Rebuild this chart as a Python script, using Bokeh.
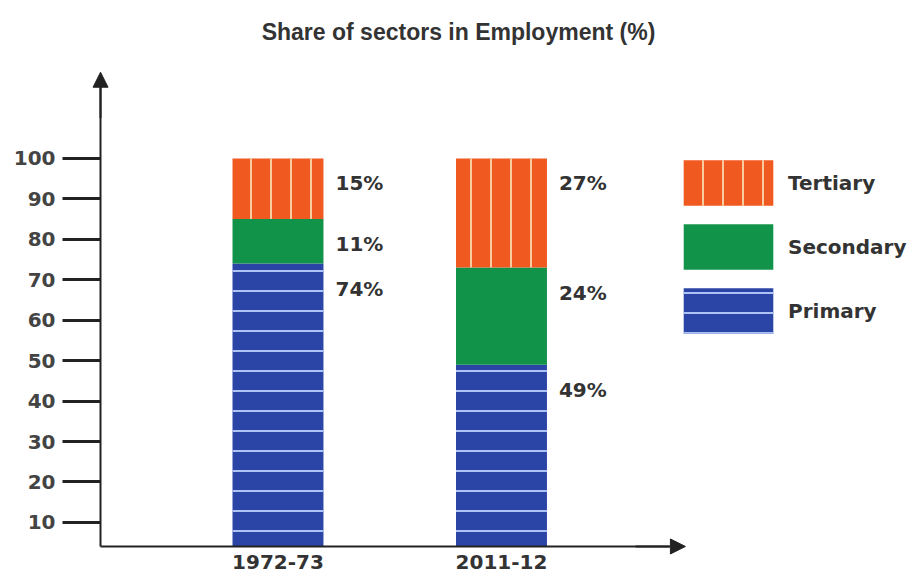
from bokeh.plotting import figure
from bokeh.models import (ColumnDataSource, Range1d, FixedTicker, Legend, LegendItem,
                          Arrow, NormalHead)
from bokeh.core.properties import value
from bokeh.embed import file_html
from bokeh.resources import INLINE

# ---- data ----
categories = ["1972-73", "2011-12"]
primary = [74, 49]
secondary = [11, 24]
tertiary = [15, 27]
y_ticks = [10, 20, 30, 40, 50, 60, 70, 80, 90, 100]
title_text = "Share of sectors in Employment (%)"

# ---- layout constants ----
BAR_W = 0.407
X0, X1 = -0.2416, 3.857        # frame x range (frame spans the full width)
Y0, Y1 = -3.12, 124.2          # frame y range
AX_X = 0.206                   # where the y axis sits
AX_Y = 4.06                    # where the x axis sits (bars start here)
TEXT = "#333333"
AXC = "#222222"
FONT = "DejaVu Sans"

# ---- derived ----
n = len(categories)
xs = [i + 1 for i in range(n)]
p_top = list(primary)
s_top = [a + b for a, b in zip(primary, secondary)]
t_top = [a + b + c for a, b, c in zip(primary, secondary, tertiary)]
src = ColumnDataSource(dict(x=xs, base=[AX_Y] * n, p_top=p_top, s_top=s_top, t_top=t_top))

p = figure(width=916, height=575, x_range=Range1d(X0, X1), y_range=Range1d(Y0, Y1),
           output_backend="svg", toolbar_location=None,
           min_border_left=0, min_border_right=0, min_border_top=60, min_border_bottom=0)
p.grid.visible = False
p.outline_line_color = None
p.background_fill_color = "white"

# title
p.title.text = title_text
p.title.align = "center"
p.title.offset = -6
p.title.text_font = "Liberation Sans"
p.title.text_font_size = "23px"
p.title.text_font_style = "bold"
p.title.text_color = TEXT
p.title.standoff = 32

# bars
r_p = p.vbar(x="x", bottom="base", top="p_top", width=BAR_W, source=src,
             fill_color="#2b45a6", line_color=None,
             hatch_pattern="horizontal_line", hatch_color="#aec3f5",
             hatch_weight=2, hatch_scale=20)
r_s = p.vbar(x="x", bottom="p_top", top="s_top", width=BAR_W, source=src,
             fill_color="#12934a", line_color=None)
r_t = p.vbar(x="x", bottom="s_top", top="t_top", width=BAR_W, source=src,
             fill_color="#f05a20", line_color=None,
             hatch_pattern="vertical_line", hatch_color="#f9c9a0",
             hatch_weight=2, hatch_scale=20)

# value labels
lx, ly, lt = [], [], []
for i in range(n):
    for val, top in ((primary[i], p_top[i]), (secondary[i], s_top[i]), (tertiary[i], t_top[i])):
        lx.append(xs[i] + BAR_W / 2)
        ly.append(top)
        lt.append(f"{val}%")
lsrc = ColumnDataSource(dict(x=lx, y=ly, t=lt))
p.text(x="x", y="y", text="t", source=lsrc, x_offset=12, y_offset=25,
       text_font=value(FONT), text_font_style="bold", text_font_size="20px",
       text_color=TEXT, text_baseline="middle", text_align="left")

# axes (fixed inside the frame so the arrow heads are not clipped)
p.yaxis.fixed_location = AX_X
p.yaxis.ticker = FixedTicker(ticks=y_ticks)
p.yaxis.bounds = (AX_Y, 118)
p.yaxis.axis_line_width = 2
p.yaxis.axis_line_color = AXC
p.yaxis.major_tick_out = 38
p.yaxis.major_tick_in = 0
p.yaxis.major_tick_line_width = 3
p.yaxis.major_tick_line_color = AXC
p.yaxis.minor_tick_line_color = None
p.yaxis.major_label_standoff = 7
p.yaxis.major_label_text_font = FONT
p.yaxis.major_label_text_font_style = "bold"
p.yaxis.major_label_text_font_size = "20px"
p.yaxis.major_label_text_color = "#444444"

p.xaxis.fixed_location = AX_Y
p.xaxis.ticker = FixedTicker(ticks=xs)
p.xaxis.major_label_overrides = {x: c for x, c in zip(xs, categories)}
p.xaxis.bounds = (AX_X, 2.75)
p.xaxis.axis_line_width = 2
p.xaxis.axis_line_color = AXC
p.xaxis.major_tick_out = 0
p.xaxis.major_tick_in = 0
p.xaxis.minor_tick_line_color = None
p.xaxis.major_label_standoff = 9
p.xaxis.major_label_text_font = FONT
p.xaxis.major_label_text_font_style = "bold"
p.xaxis.major_label_text_font_size = "20px"
p.xaxis.major_label_text_color = TEXT

# arrow heads
p.add_layout(Arrow(end=NormalHead(size=15, fill_color=AXC, line_color=AXC),
                   x_start=AX_X, y_start=110, x_end=AX_X, y_end=121.3,
                   line_width=2, line_color=AXC))
p.add_layout(Arrow(end=NormalHead(size=15, fill_color=AXC, line_color=AXC),
                   x_start=2.6, y_start=AX_Y, x_end=2.823, y_end=AX_Y,
                   line_width=2, line_color=AXC))

# legend
legend = Legend(items=[LegendItem(label="Tertiary", renderers=[r_t]),
                       LegendItem(label="Secondary", renderers=[r_s]),
                       LegendItem(label="Primary", renderers=[r_p])],
                location=(672, 236), glyph_width=112, glyph_height=57, spacing=7,
                label_standoff=4, padding=0, margin=0,
                border_line_color=None, background_fill_alpha=0,
                label_text_font=FONT, label_text_font_style="bold",
                label_text_font_size="20px", label_text_color=TEXT)
p.add_layout(legend)

open("out.html", "w").write(file_html(p, INLINE))
